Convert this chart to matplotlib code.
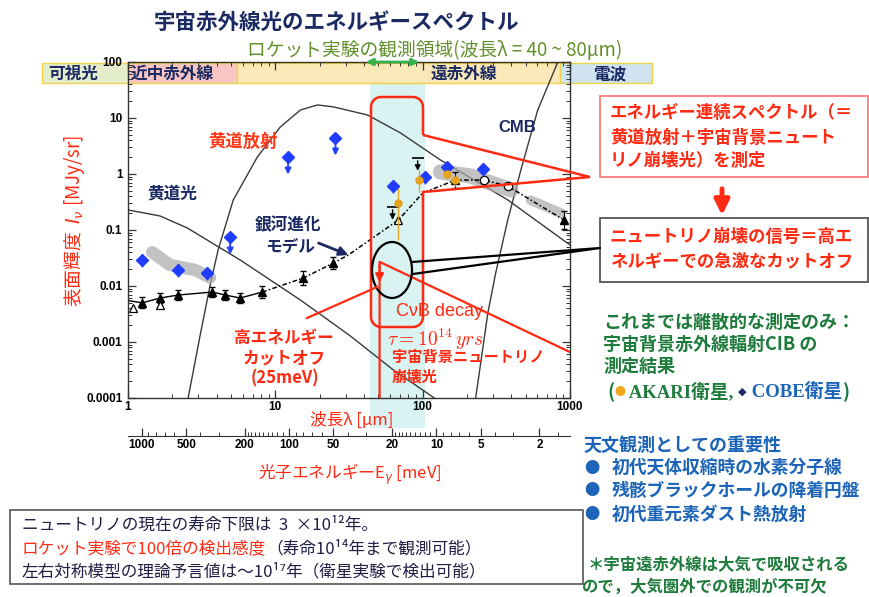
import numpy as np
import matplotlib
matplotlib.use('Agg')
import matplotlib.pyplot as plt
from matplotlib.patches import Rectangle, Ellipse, PathPatch
from matplotlib.path import Path
from matplotlib.ticker import FixedLocator, NullFormatter, LogLocator
from matplotlib.transforms import blended_transform_factory

plt.rcParams['font.family'] = ['Noto Sans CJK JP', 'DejaVu Sans']

W, H = 870, 597

# ---------------- data: wavelength [um], surface brightness [MJy/sr] ----------------
# zodiacal light (scattered sunlight)
zl_light_wl = [1, 1.65, 2.52, 5.78, 14.8, 32.3, 63.3, 120]
zl_light_I = [0.228, 0.178, 0.109, 0.0291, 0.00562, 0.00128, 0.000316, 0.0001]

# zodiacal emission
zl_emis_wl = [2.56, 3.09, 3.61, 4.09, 5.18, 7.55, 10.8, 14.8, 19.3, 24.8, 42.3, 70.8, 132, 379, 1000]
zl_emis_I = [1e-4, 0.00133, 0.0104, 0.044, 0.343, 2.01, 6.9, 13.9, 17.1, 15.8, 11.3, 5.4, 1.78, 0.343, 0.054]

# CMB
cmb_wl = [229, 277, 313, 378, 464, 604, 827, 1000]
cmb_I = [1e-4, 0.0033, 0.017, 0.151, 1.18, 13.9, 100, 370]

# galaxy evolution model
gal_wl = [1, 1.25, 1.65, 2.19, 3.73, 4.57, 5.78, 8.15, 15.5, 24.8, 31.3, 68.5, 100, 167, 260, 377, 910]
gal_I = [0.0055, 0.0050, 0.0061, 0.0069, 0.0078, 0.0069, 0.0061, 0.0078, 0.0139, 0.0258, 0.0358,
         0.151, 0.458, 0.78, 0.78, 0.61, 0.151]

# measured points
tri_wl = [1.25, 1.65, 2.19, 3.73, 4.57, 5.78, 8.15, 15.5, 24.8, 167, 910]
tri_I = [0.0050, 0.0061, 0.0069, 0.0078, 0.0069, 0.0061, 0.0078, 0.0139, 0.0258, 0.78, 0.151]
tri_err = [0.25, 0.25, 0.25, 0.25, 0.25, 0.25, 0.3, 0.35, 0.3, 0.4, 0.45]
open_tri_wl = [1.08, 1.65, 68.5]
open_tri_I = [0.0040, 0.0046, 0.151]
open_circ_wl = [260, 377]
open_circ_I = [0.78, 0.61]

cobe_wl = [1.25, 2.19, 3.45, 62.7, 104, 147, 257]
cobe_I = [0.029, 0.0193, 0.017, 0.61, 0.88, 1.33, 1.23]
cobe_ul_wl = [4.94, 12.2, 25.6]
cobe_ul_I = [0.075, 2.01, 4.4]

akari_wl = [67.6, 94, 147, 167]
akari_I = [0.30, 0.78, 1.0, 0.78]
akari_lo = [0.066, 0.48, 0.80, 0.60]
akari_hi = [0.56, 1.18, 1.20, 0.95]

black_ul_wl = [62.5, 92.5]
black_ul_I = [0.257, 1.93]

cib_band1_wl = [1.46, 1.93, 2.86, 3.6]
cib_band1_I = [0.040, 0.0237, 0.0193, 0.0142]
cib_band2_wl = [132, 211, 398]
cib_band2_I = [1.09, 0.92, 0.52]
cib_band3_wl = [541, 869]
cib_band3_I = [0.34, 0.20]

# neutrino decay spectrum with cutoff at 25 meV
cnb_wl = [51, 51, 1000]
cnb_I = [1e-4, 0.027, 0.00066]
rocket_range = (44, 103)

wl_ticks = [1, 10, 100, 1000]
wl_labels = ['1', '10', '100', '1000']
I_ticks = [1e-4, 1e-3, 1e-2, 1e-1, 1, 10, 100]
I_labels = ['0.0001', '0.001', '0.01', '0.1', '1', '10', '100']
e_ticks = [1000, 500, 200, 100, 50, 20, 10, 5, 2]
e_minor = ([2, 3, 4, 5, 6, 7, 8, 9, 20, 30, 40, 50, 60, 70, 80, 90, 200, 300, 400, 500, 600, 700, 800, 900]
           + list(range(110, 200, 10)) + list(range(11, 20)) + [1.5])

navy = '#1b2a63'
red = '#ff2a12'
green = '#1e7b3c'
blue = '#1c64b8'
line_c = '#3a3a3a'

fig = plt.figure(figsize=(8.7, 5.97), dpi=100)

bg = fig.add_axes([0, 0, 1, 1], zorder=0)
bg.set_xlim(0, W)
bg.set_ylim(H, 0)
bg.axis('off')

ax = fig.add_axes([128 / W, 1 - 398 / H, (570 - 128) / W, (398 - 62) / H], zorder=1)
ax.patch.set_alpha(0)

fg = fig.add_axes([0, 0, 1, 1], zorder=2)
fg.set_xlim(0, W)
fg.set_ylim(H, 0)
fg.axis('off')

# ---------------- background bands ----------------
trans_band = blended_transform_factory(ax.transData, bg.transData)
bg.add_patch(Rectangle((rocket_range[0], 83), rocket_range[1] - rocket_range[0], 345,
                       transform=trans_band, color='#d9f2f2', lw=0))
bands = [(42, 128, '#e4edcc', '可視光', 73, 'center'),
         (128, 237, '#f9c6c4', '近中赤外線', 131, 'left'),
         (237, 560, '#fbe8b8', '遠赤外線', 464, 'center'),
         (560, 652, '#cfe3f1', '電波', 610, 'center')]
for x0, x1, col, lab, tx, ha in bands:
    bg.add_patch(Rectangle((x0, 63), x1 - x0, 20, fc=col, ec='#f2d24a', lw=1))
    bg.text(tx, 74, lab, ha=ha, va='center', fontsize=12, fontweight='bold', color=navy)

# ---------------- main plot ----------------
ax.set_xscale('log')
ax.set_yscale('log')

ax.plot(zl_light_wl, zl_light_I, color=line_c, lw=1.0)
ax.plot(zl_emis_wl, zl_emis_I, color=line_c, lw=1.0)
ax.plot(cmb_wl, cmb_I, color=line_c, lw=1.0)

ax.plot(cib_band1_wl, cib_band1_I, color='#a8a8a8', lw=9, alpha=0.7, solid_capstyle='round')
ax.plot(cib_band2_wl, cib_band2_I, color='#a8a8a8', lw=11, alpha=0.7, solid_capstyle='round')
ax.plot(cib_band3_wl, cib_band3_I, color='#a8a8a8', lw=7, alpha=0.7, solid_capstyle='round')

ax.plot(gal_wl[:8], gal_I[:8], color='k', lw=1.0)
ax.plot(gal_wl[7:], gal_I[7:], color='k', lw=1.1, ls=(0, (3, 1.5, 1, 1.5)))

tri_I_arr = np.array(tri_I)
tri_err_arr = np.array(tri_err)
ax.errorbar(tri_wl, tri_I, yerr=[tri_I_arr * tri_err_arr / (1 + tri_err_arr), tri_I_arr * tri_err_arr],
            fmt='^', ms=6, color='k', elinewidth=0.8, capsize=2)
ax.plot(open_tri_wl, open_tri_I, '^', ms=6, mfc='white', mec='k', mew=0.9)
ax.plot(open_circ_wl, open_circ_I, 'o', ms=6, mfc='white', mec='k', mew=0.9)

cobe_I_arr = np.array(cobe_I)
ax.errorbar(cobe_wl, cobe_I, yerr=[cobe_I_arr * 0.25, cobe_I_arr * 0.3], fmt='D', ms=6,
            color='#1f3cff', elinewidth=1, capsize=0)
ax.plot(cobe_ul_wl, cobe_ul_I, 'D', ms=6, color='#1f3cff')
for wl, val in zip(cobe_ul_wl, cobe_ul_I):
    ax.annotate('', xy=(wl, val / 2.3), xytext=(wl, val),
                arrowprops=dict(arrowstyle='-|>', color='#1f3cff', lw=1.3, mutation_scale=9))

akari_I_arr = np.array(akari_I)
ax.errorbar(akari_wl, akari_I, yerr=[akari_I_arr - np.array(akari_lo), np.array(akari_hi) - akari_I_arr],
            fmt='o', ms=5, color='#e8a21c', elinewidth=0.9, capsize=0)

ax.plot(black_ul_wl, black_ul_I, '_', ms=8, mew=1.2, color='k')
for wl, val in zip(black_ul_wl, black_ul_I):
    ax.annotate('', xy=(wl, val / 1.9), xytext=(wl, val),
                arrowprops=dict(arrowstyle='-|>', color='k', lw=1.0, mutation_scale=8))

ax.plot(cnb_wl, cnb_I, color=red, lw=1.6)
ax.annotate('', xy=(cnb_wl[1], cnb_I[1] / 2.6), xytext=(cnb_wl[1], cnb_I[1]),
            arrowprops=dict(arrowstyle='-|>', color=red, lw=1.6, mutation_scale=12))

ax.set_xlim(1, 1000)
ax.set_ylim(1e-4, 100)
tick_font = dict(fontsize=8.5, fontweight='bold', fontfamily='Liberation Sans')
ax.set_xticks(wl_ticks, labels=wl_labels, **tick_font)
ax.set_yticks(I_ticks, labels=I_labels, **tick_font)
ax.xaxis.set_minor_locator(LogLocator(subs=np.arange(2, 10)))
ax.yaxis.set_minor_locator(LogLocator(subs=np.arange(2, 10), numticks=20))
ax.xaxis.set_minor_formatter(NullFormatter())
ax.yaxis.set_minor_formatter(NullFormatter())
ax.tick_params(which='both', direction='in', top=True, right=True, color='#333333')
ax.tick_params(which='major', length=6, width=0.9)
ax.tick_params(which='minor', length=3, width=0.7)
ax.tick_params(axis='x', which='major', pad=2)
ax.tick_params(axis='y', which='major', pad=4)
for sp in ax.spines.values():
    sp.set_color('#333333')
    sp.set_linewidth(1.0)


def wl_to_energy(x):
    x = np.asarray(x, dtype=float)
    with np.errstate(divide='ignore'):
        return 1239.84 / x


sec = ax.secondary_xaxis(-(436 - 398) / (398 - 62), functions=(wl_to_energy, wl_to_energy))
sec.set_xticks(e_ticks, labels=[str(v) for v in e_ticks], **tick_font)
sec.xaxis.set_minor_locator(FixedLocator(e_minor))
sec.xaxis.set_minor_formatter(NullFormatter())
sec.tick_params(which='both', direction='in', color='#333333')
sec.tick_params(which='major', length=6, width=0.9, pad=2)
sec.tick_params(which='minor', length=3, width=0.7)
sec.spines['bottom'].set_color('#333333')

# ---------------- overlays (pixel coordinates) ----------------
def arc(cx, cy, rad, a0, a1):
    t = np.radians(np.linspace(a0, a1, 8))
    return list(zip(cx + rad * np.cos(t), cy - rad * np.sin(t)))


L, R, T, B, rad = 371, 423, 97, 327, 10
verts = [(R, 135)] + arc(R - rad, T + rad, rad, 0, 90) + arc(L + rad, T + rad, rad, 90, 180) \
    + arc(L + rad, B - rad, rad, 180, 270) + arc(R - rad, B - rad, rad, 270, 360) \
    + [(R, 192), (590, 177), (R, 135)]
fg.add_patch(PathPatch(Path(verts), fill=False, ec=red, lw=1.8))

fg.add_patch(Ellipse((392, 270), 40, 56, fill=False, ec='k', lw=1.6))
fg.plot([412, 600, 413], [262, 248, 274], color='k', lw=1.6)
fg.plot([307, 377], [318, 287], color=red, lw=1.6)
fg.annotate('', xy=(351, 256), xytext=(316, 242),
            arrowprops=dict(arrowstyle='-|>', color=navy, lw=2, mutation_scale=13))
fg.annotate('', xy=(363, 62), xytext=(422, 62),
            arrowprops=dict(arrowstyle='<|-|>', color='#35b04a', lw=2, mutation_scale=10))

# titles
fg.text(336, 22, '宇宙赤外線光のエネルギースペクトル', ha='center', va='center',
        fontsize=15.5, fontweight='bold', color=navy)
fg.text(435, 50, 'ロケット実験の観測領域(波長λ = 40 ~ 80μm)', ha='center', va='center',
        fontsize=13.5, color='#62902c')

# axis labels
fg.text(75, 221, '表面輝度  $I_\\nu$ [MJy/sr]', rotation=90, ha='center', va='center',
        fontsize=13.5, color=red)
fg.text(352, 420, '波長λ [μm]', ha='center', va='center', fontsize=12, color=red)
fg.text(350, 474, '光子エネルギーE$_\\gamma$ [meV]', ha='center', va='center', fontsize=12, color=red)

# in-plot annotations
fg.text(243, 142, '黄道放射', ha='center', va='center', fontsize=12.5, fontweight='bold', color='#ff3a1a')
fg.text(172, 193, '黄道光', ha='center', va='center', fontsize=12, fontweight='bold', color=navy)
fg.text(288, 225, '銀河進化', ha='center', va='center', fontsize=12, fontweight='bold', color=navy)
fg.text(290, 247, 'モデル', ha='center', va='center', fontsize=12, fontweight='bold', color=navy)
fg.text(517, 127, 'CMB', ha='center', va='center', fontsize=12, fontweight='bold', color=navy,
        fontfamily='Liberation Sans')
fg.text(440, 312, 'CνB decay', ha='center', va='center', fontsize=13, color=red,
        fontfamily='Liberation Sans')
fg.text(435, 339, r'$\tau = 10^{14}\,yrs$', ha='center', va='center', fontsize=14, color=red,
        math_fontfamily='cm')
fg.text(392, 357, '宇宙背景ニュートリノ', ha='left', va='center', fontsize=11, fontweight='bold', color=red)
fg.text(392, 376, '崩壊光', ha='left', va='center', fontsize=11, fontweight='bold', color=red)
fg.text(284, 338, '高エネルギー', ha='center', va='center', fontsize=12, fontweight='bold', color=red)
fg.text(284, 358, 'カットオフ', ha='center', va='center', fontsize=12, fontweight='bold', color=red)
fg.text(285, 378, '(25meV)', ha='center', va='center', fontsize=12, fontweight='bold', color=red)

# right panel
fg.add_patch(Rectangle((600, 96), 268, 81, fc='white', ec='#ff7a7a', lw=1.3))
fg.text(610, 113, 'エネルギー連続スペクトル（＝', va='center', fontsize=12.5, fontweight='bold', color=red)
fg.text(610, 138, '黄道放射＋宇宙背景ニュート', va='center', fontsize=12.5, fontweight='bold', color=red)
fg.text(610, 161, 'リノ崩壊光）を測定', va='center', fontsize=12.5, fontweight='bold', color=red)

fg.annotate('', xy=(722, 218), xytext=(722, 186),
            arrowprops=dict(arrowstyle='-|>', color='#ff2a12', lw=3.5, mutation_scale=22))

fg.add_patch(Rectangle((600, 218), 268, 64, fc='white', ec='#555555', lw=1.3))
fg.text(610, 237, 'ニュートリノ崩壊の信号＝高エ', va='center', fontsize=12.5, fontweight='bold', color=red)
fg.text(610, 261, 'ネルギーでの急激なカットオフ', va='center', fontsize=12.5, fontweight='bold', color=red)

fg.text(603, 322, 'これまでは離散的な測定のみ：', va='center', fontsize=13, fontweight='bold', color=green)
fg.text(603, 344, '宇宙背景赤外線輻射CIB の', va='center', fontsize=13, fontweight='bold', color=green)
fg.text(603, 366, '測定結果', va='center', fontsize=13, fontweight='bold', color=green)
t = fg.text(607, 392, '(', va='center', fontsize=13.5, fontweight='bold', color=green)
t = fg.annotate('●', xy=(1, 0.5), xycoords=t, va='center', fontsize=8, color='#f2a81c')
t = fg.annotate(' AKARI衛星, ', xy=(1, 0.5), xycoords=t, va='center', fontsize=13.5,
                fontweight='bold', color=green, fontfamily=['Liberation Serif', 'Noto Sans CJK JP'])
t = fg.annotate('◆', xy=(1, 0.5), xycoords=t, va='center', fontsize=8, color=navy,
                fontfamily='DejaVu Sans')
t = fg.annotate(' COBE衛星', xy=(1, 0.5), xycoords=t, va='center', fontsize=13.5,
                fontweight='bold', color=blue, fontfamily=['Liberation Serif', 'Noto Sans CJK JP'])
fg.annotate(')', xy=(1, 0.5), xycoords=t, va='center', fontsize=13.5, fontweight='bold', color=green)

fg.text(584, 445, '天文観測としての重要性', va='center', fontsize=13, fontweight='bold', color=blue)
for y, s in [(468, '初代天体収縮時の水素分子線'), (491, '残骸ブラックホールの降着円盤'),
             (515, '初代重元素ダスト熱放射')]:
    fg.text(584, y, '●', va='center', fontsize=11, color=blue)
    fg.text(612, y, s, va='center', fontsize=12.8, fontweight='bold', color=blue)

fg.text(588, 565, '＊宇宙遠赤外線は大気で吸収される', va='center', fontsize=11.8, fontweight='bold', color=green)
fg.text(582, 587, 'ので，大気圏外での観測が不可欠', va='center', fontsize=11.8, fontweight='bold', color=green)

# bottom-left box
fg.add_patch(Rectangle((10, 510), 573, 74, fc='white', ec='#555555', lw=1.2))
dark = '#1f1f45'
fg.text(22, 525, 'ニュートリノの現在の寿命下限は  3  ×10¹²年。', va='center', fontsize=12, color=dark)
t = fg.text(22, 549, 'ロケット実験で100倍の検出感度', va='center', fontsize=12, color=red)
fg.annotate('（寿命10¹⁴年まで観測可能）', xy=(1, 0.5), xycoords=t, va='center', fontsize=12, color=dark)
fg.text(22, 572, '左右対称模型の理論予言値は～10¹⁷年（衛星実験で検出可能）', va='center', fontsize=12, color=dark)

fig.savefig('out.png', dpi=100)
